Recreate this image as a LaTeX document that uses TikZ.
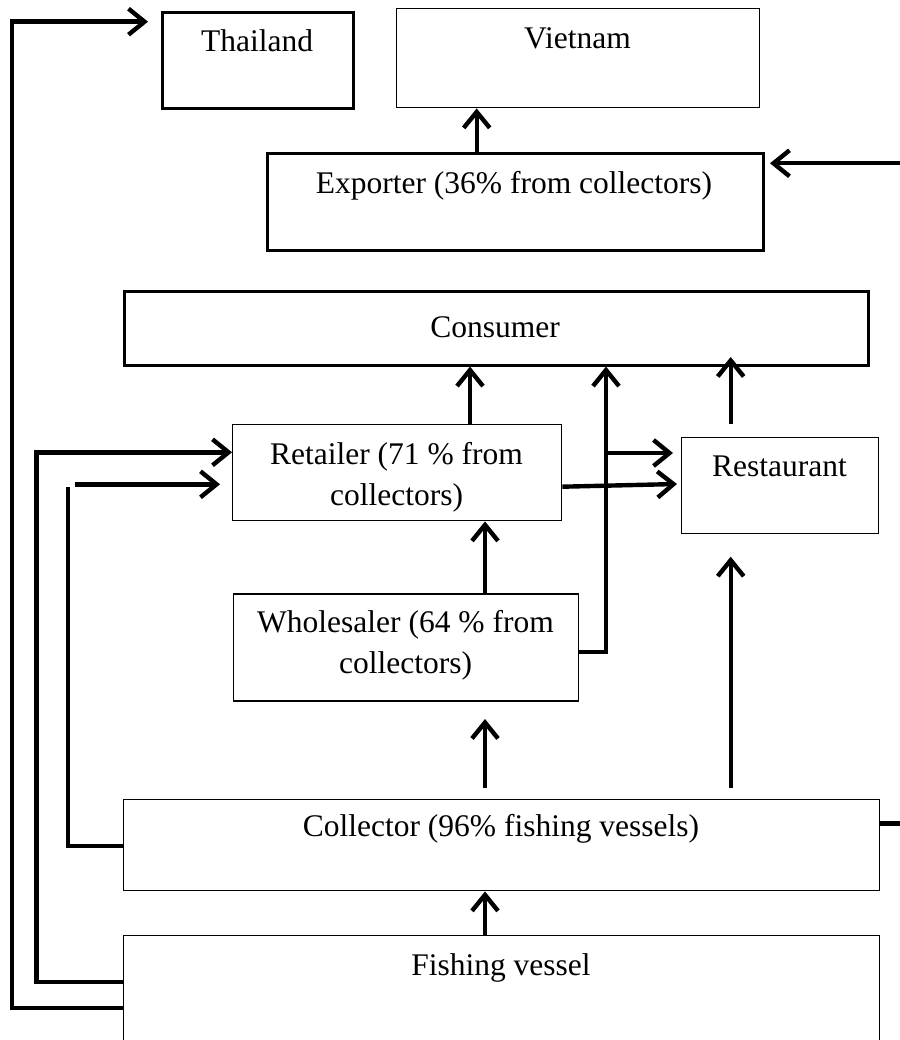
\documentclass[tikz,border=0pt]{standalone}
\usepackage{fontspec}
\setmainfont{Liberation Serif}
\usetikzlibrary{arrows.meta}
\begin{document}
\begin{tikzpicture}[x=1pt,y=-1pt,
  box/.style={draw, line width=1.4pt, inner sep=0pt, anchor=north west},
  thickbox/.style={box, line width=3pt},
  txt/.style={anchor=base, inner sep=0pt, font=\fontsize{31.5}{41}\selectfont},
  ln/.style={line width=4.4pt},
  arr/.style={line width=4.4pt, -{Straight Barb[length=16pt,width=26pt]}}]
\useasboundingbox (0,0) rectangle (899,1040);

% boxes
\node[thickbox, minimum width=191pt, minimum height=96pt] (thai) at (161,10.7) {};
\node[box, minimum width=363pt, minimum height=99pt] (viet) at (396,8) {};
\node[thickbox, minimum width=496pt, minimum height=97pt] (exp) at (266,152) {};
\node[thickbox, line width=2.6pt, minimum width=744pt, minimum height=74pt] (cons) at (123,290) {};
\node[box, minimum width=329pt, minimum height=96pt] (ret) at (232,424) {};
\node[box, minimum width=197pt, minimum height=96pt] (rest) at (681,437) {};
\node[box, minimum width=345pt, minimum height=107pt] (whol) at (233,593.3) {};
\node[box, minimum width=756pt, minimum height=91pt] (coll) at (123,799) {};
\node[box, minimum width=756pt, minimum height=115pt] (fish) at (123,935) {};

% box texts
\node[txt] (thai-t) at (257,51.7) {Thailand};
\node[txt] (viet-t) at (577.5,48.3) {Vietnam};
\node[txt] (exp-t) at (514,193.3) {Exporter (36\% from collectors)};
\node[txt] (cons-t) at (495,337) {Consumer};
\node[txt] (ret-t1) at (396.5,464) {Retailer (71 \% from};
\node[txt] (ret-t2) at (396.5,505) {collectors)};
\node[txt] (rest-t) at (779.5,476.7) {Restaurant};
\node[txt] (whol-t1) at (405.5,632.7) {Wholesaler (64 \% from};
\node[txt] (whol-t2) at (405.5,673) {collectors)};
\node[txt] (coll-t) at (501,836.7) {Collector (96\% fishing vessels)};
\node[txt] (fish-t) at (501,975) {Fishing vessel};

% free ends of connectors
\coordinate (thtip) at (148,21.7);
\coordinate (exptip) at (770,163.3);
\coordinate (cw-top) at (68,487);
\coordinate (cr-start) at (75,484.3);
\coordinate (cr-tip) at (220,484.3);
\coordinate (cw-start) at (485,788);
\coordinate (cw-tip) at (485,719);
\coordinate (crs-start) at (730.7,788);
\coordinate (crs-tip) at (730.7,556.7);
\coordinate (rc-start) at (730.7,424);
\coordinate (rc-tip) at (730.7,357);
\coordinate (rr-tip) at (677,484);
\coordinate (br-start) at (606,453);
\coordinate (br-tip) at (673,453);

% fishing vessel to Thailand and to retailer
\draw[arr] (fish.west |- 0,1008) -| (12,21.7) -- (thtip);
\draw[arr] (fish.west |- 0,981.7) -| (36.5,452.3) -- (ret.west |- 0,452.3);
% collector to retailer
\draw[ln] (coll.west |- 0,845.7) -| (cw-top);
\draw[arr] (cr-start) -- (cr-tip);
% fishing vessel to collector
\draw[arr] (fish.north -| 485,0) -- (coll.south -| 485,0);
% collector to wholesaler and restaurant
\draw[arr] (cw-start) -- (cw-tip);
\draw[arr] (crs-start) -- (crs-tip);
% wholesaler to retailer
\draw[arr] (whol.north -| 485,0) -- (ret.south -| 485,0);
% retailer to consumer and restaurant
\draw[arr] (ret.north -| 470,0) -- (cons.south -| 470,0);
\draw[arr] (ret.east |- 0,486.7) -- (rr-tip);
% wholesaler to consumer, with branch to restaurant
\draw[arr] (whol.east |- 0,651.7) -| (cons.south -| 606,0);
\draw[arr] (br-start) -- (br-tip);
% restaurant to consumer
\draw[arr] (rc-start) -- (rc-tip);
% exporter to Vietnam
\draw[arr] (exp.north -| 476.7,0) -- (viet.south -| 476.7,0);
% collector to exporter
\draw[arr] (coll.east |- 0,823.3) -| (915,163.3) -- (exptip);
\end{tikzpicture}
\end{document}
